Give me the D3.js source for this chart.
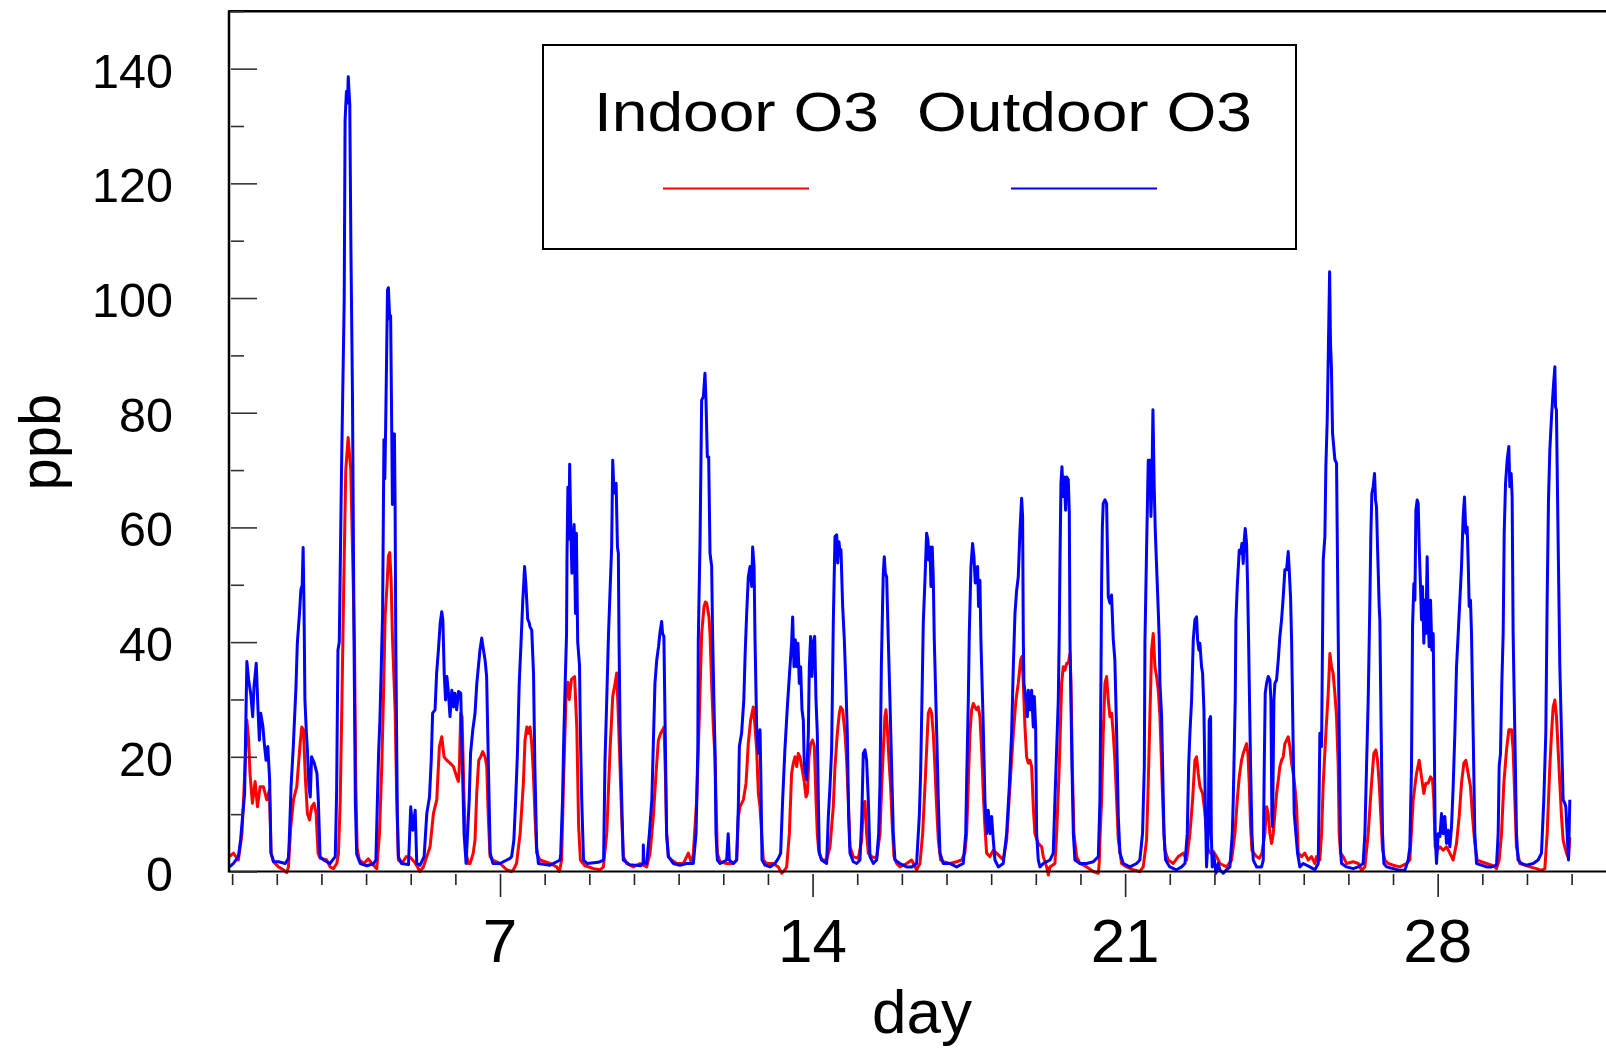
<!DOCTYPE html>
<html><head><meta charset="utf-8">
<script src="https://cdn.jsdelivr.net/npm/d3@7"></script>
<style>
body{margin:0;background:#fff}
svg{display:block}
text{font-family:"Liberation Sans",Arial,Helvetica,sans-serif;fill:#000}
</style>
</head><body>
<svg id="chart" width="1606" height="1048"></svg>
<script>
// ---- data ----
const seriesNames = ["Indoor O3", "Outdoor O3"];
const seriesColors = ["#ff0000", "#0000ff"];
const dayTicks = d3.range(1, 32);
const dayLabels = [7, 14, 21, 28];
const ppbTicks = d3.range(0, 151, 10);
const ppbLabels = [0, 20, 40, 60, 80, 100, 120, 140];

// outdoor O3 [day, ppb]
const outdoorO3 = [
[0.94,0.8],[1.03,1.4],[1.14,2.6],[1.19,5.5],[1.24,10.1],[1.28,13.6],[1.33,36.6],[1.37,33.4],[1.42,30.8],[1.46,27.0],[1.49,32.2],[1.54,36.3],[1.58,28.2],[1.61,22.9],[1.64,27.6],[1.69,25.3],[1.72,22.3],[1.76,19.4],[1.80,21.8],[1.84,16.0],[1.87,3.2],[1.93,1.7],[2.04,1.7],[2.19,1.4],[2.26,2.3],
[2.28,5.5],[2.32,14.8],[2.37,21.8],[2.43,32.2],[2.46,39.8],[2.51,45.2],[2.54,49.1],[2.57,50],[2.59,56.5],[2.61,46],[2.63,30],[2.66,24.7],[2.69,20.6],[2.72,14.8],[2.75,13.0],[2.78,20.0],[2.84,18.9],[2.90,17.1],[2.93,12.5],[2.97,2.6],[3.05,2.0],[3.19,1.4],[3.31,2.6],
[3.34,13.6],[3.37,38.6],[3.40,40],[3.45,70],[3.51,99.5],[3.53,131],[3.56,136],[3.585,134],[3.60,138.6],[3.635,133.7],[3.66,109],[3.695,83.4],[3.73,40.2],[3.76,12],[3.79,3],[3.87,1.4],[4.02,1.0],[4.17,1.4],[4.22,2.0],
[4.28,20.6],[4.31,26.4],[4.35,38.6],[4.37,45],[4.40,75.3],[4.42,68.5],[4.44,78.2],[4.48,101.4],[4.50,101.8],[4.53,96.3],[4.55,96.9],[4.575,76.9],[4.59,64],[4.61,76.3],[4.635,76.3],[4.65,64],[4.665,40],[4.70,10],[4.725,2.5],[4.80,1.4],[4.95,1.2],[5.0,11.3],[5.045,7.2],[5.10,10.7],[5.135,1.4],[5.21,1.1],
[5.30,2.6],[5.36,10.1],[5.42,13.0],[5.46,19.4],[5.49,27.6],[5.545,28.2],[5.58,34.6],[5.62,38.6],[5.66,43.3],[5.695,45.3],[5.72,43.9],[5.75,34.6],[5.78,29.9],[5.81,34.0],[5.84,31.6],[5.88,27.0],[5.92,31.6],[5.96,28.7],[5.99,31.1],[6.03,28.2],[6.07,31.4],[6.12,31.1],[6.14,24.1],[6.195,6.6],[6.24,1.4],
[6.31,12.5],[6.34,20.6],[6.39,24.7],[6.44,27.6],[6.48,32.8],[6.515,35.7],[6.55,38.6],[6.59,40.7],[6.63,38.6],[6.665,36.9],[6.70,34.0],[6.74,18.3],[6.78,3.2],[6.84,1.4],[7.0,1.4],[7.225,2.3],
[7.26,2.6],[7.31,5.5],[7.35,12.5],[7.39,20.6],[7.43,32.8],[7.47,39.8],[7.51,47.3],[7.53,50],[7.55,53.2],[7.58,50],[7.62,44],[7.65,43.5],[7.67,42.7],[7.71,42.1],[7.75,34.6],[7.78,18.3],[7.82,4.3],[7.86,1.4],[8.12,1.1],[8.27,1.7],[8.345,2.0],
[8.36,3.2],[8.40,12.5],[8.43,24],[8.46,33],[8.49,41.5],[8.50,55],[8.52,67],[8.54,58],[8.56,71],[8.58,62],[8.61,52],[8.64,58],[8.66,60.5],[8.69,45],[8.71,59],[8.74,40],[8.78,36],[8.80,24],[8.83,12.5],[8.87,2],[8.95,1.4],[9.2,1.6],[9.32,2],
[9.35,18.9],[9.39,29.9],[9.43,41.5],[9.50,56.6],[9.524,71.7],[9.553,66],[9.60,67.7],[9.63,56.6],[9.65,55.5],[9.665,40.4],[9.69,24],[9.725,12.5],[9.76,2],[9.9,1.2],[10.15,1.0],[10.205,1.5],[10.21,4.6],[10.22,1.5],[10.285,1.4],
[10.345,6.6],[10.40,12.5],[10.43,21.2],[10.47,32.8],[10.51,36.9],[10.55,39.2],[10.58,41.5],[10.62,43.6],[10.64,41.5],[10.67,41.0],[10.70,24.1],[10.73,6.6],[10.77,2.6],[10.88,1.4],[11.03,1.1],[11.18,1.4],[11.33,1.4],
[11.39,6.6],[11.43,21.2],[11.44,40],[11.48,57.8],[11.516,82.2],[11.554,82.8],[11.59,86.9],[11.613,82.2],[11.643,72.3],[11.673,72.3],[11.703,55.5],[11.74,53.2],[11.763,40.4],[11.79,29.9],[11.815,21.2],[11.837,6.6],[11.867,2],[11.93,1.4],[12.076,2],[12.11,6.6],[12.136,2],[12.226,1.4],[12.30,2],
[12.337,11.3],[12.36,21.8],[12.41,24.1],[12.46,29.9],[12.49,38],[12.524,45],[12.561,51.4],[12.60,53.2],[12.636,49.7],[12.658,56.6],[12.69,53.2],[12.711,40.4],[12.748,25.2],[12.786,20.6],[12.823,24.7],[12.845,14.8],[12.868,2],[12.935,1.1],[13.047,0.8],[13.158,1.4],[13.233,2.3],[13.285,3.2],
[13.33,12.5],[13.38,21.2],[13.435,28.7],[13.494,35.7],[13.53,39.8],[13.554,44.4],[13.584,35.7],[13.614,40.4],[13.644,35.7],[13.673,39.8],[13.703,32.8],[13.733,35.7],[13.763,28.2],[13.793,26.4],[13.815,18.3],[13.845,17.1],[13.867,16.0],[13.905,24.1],[13.927,35.7],[13.957,41.0],[13.987,34.0],[14.017,39.8],[14.047,41.0],[14.077,29.9],[14.106,24.1],[14.129,12.5],[14.151,3.2],[14.203,2.0],[14.315,1.4],
[14.353,9.6],[14.39,14.8],[14.427,21.2],[14.464,43.3],[14.502,58.4],[14.54,58.7],[14.562,53.8],[14.592,57.5],[14.614,55.5],[14.636,56.1],[14.674,46.2],[14.711,40.4],[14.748,32.2],[14.778,24.1],[14.808,9.6],[14.838,3.2],[14.912,1.7],[14.987,1.4],[15.062,2],[15.10,9],[15.136,20.6],[15.174,21.2],[15.21,19.4],[15.248,12.5],[15.286,2.6],[15.36,1.4],[15.435,2],
[15.48,6.6],[15.51,15.4],[15.54,35.7],[15.57,47.3],[15.584,52],[15.606,54.9],[15.629,52],[15.659,51.4],[15.696,40.4],[15.733,29.9],[15.77,18.3],[15.808,6.6],[15.845,2],[15.957,1.4],[16.107,0.8],[16.219,0.8],[16.33,1.4],
[16.39,9.6],[16.42,17.1],[16.45,29.9],[16.48,43.5],[16.517,50.8],[16.554,59],[16.584,57.8],[16.60,54.3],[16.63,56.6],[16.651,49.7],[16.68,56.6],[16.703,51.4],[16.726,40.4],[16.78,24.1],[16.816,12.5],[16.853,3.2],[16.928,1.4],[17.077,1.4],[17.226,0.8],[17.375,1.4],
[17.43,6.6],[17.45,15.4],[17.488,29.9],[17.51,41.5],[17.525,46.2],[17.547,53.2],[17.584,57.2],[17.614,54.9],[17.644,50.3],[17.674,52],[17.696,53.2],[17.718,46.2],[17.748,50.8],[17.77,40.4],[17.823,25.2],[17.86,12.5],[17.898,6.6],[17.935,10.7],[17.972,6.6],[18.01,9.6],[18.047,5.5],[18.085,2],[18.16,0.8],[18.27,1.4],
[18.346,6.6],[18.406,14.8],[18.458,24.1],[18.496,35.7],[18.533,45],[18.57,49],[18.607,51.4],[18.645,59.5],[18.682,65.1],[18.704,61.9],[18.72,40.5],[18.734,32.8],[18.78,29.9],[18.81,27],[18.832,31.6],[18.87,28.2],[18.906,31.6],[18.943,25.2],[18.966,30.5],[18.996,25.2],[19.018,6.6],[19.055,2],[19.093,0.8],[19.167,1.4],[19.316,2],[19.39,3.2],
[19.428,12.5],[19.466,21.2],[19.503,29.9],[19.525,41.5],[19.54,53.2],[19.563,67.7],[19.585,70.6],[19.615,65.4],[19.637,68.8],[19.667,63.0],[19.69,68.8],[19.727,68.3],[19.75,62.5],[19.765,40.5],[19.78,32.8],[19.81,18.3],[19.84,6.6],[19.876,2],[19.988,1.4],[20.138,1.4],[20.287,1.7],[20.40,2.6],
[20.436,12.5],[20.458,32.8],[20.473,50],[20.49,60.1],[20.51,64.2],[20.548,64.8],[20.585,64.2],[20.623,47.9],[20.66,46.8],[20.697,48.2],[20.734,40.5],[20.77,36.9],[20.81,24.1],[20.847,9.6],[20.884,3.2],[20.96,1.4],[21.108,0.8],[21.257,1.4],[21.33,2],
[21.39,6.6],[21.43,18.3],[21.444,40],[21.48,56],[21.518,71.7],[21.555,71.7],[21.578,61.9],[21.60,67.7],[21.623,80.5],[21.653,66.5],[21.675,59.5],[21.705,53.2],[21.742,45.6],[21.764,40.5],[21.78,32.8],[21.817,27],[21.84,18.3],[21.87,6.6],[21.906,2],[22.0,0.8],[22.15,0.3],[22.265,0.8],[22.34,1.4],
[22.392,6.6],[22.422,18.3],[22.451,24.1],[22.489,29.9],[22.526,40.4],[22.563,43.9],[22.60,44.4],[22.623,40.4],[22.653,38.6],[22.675,39.8],[22.712,35.7],[22.735,34.6],[22.765,28.2],[22.794,12.5],[22.824,0.8],[22.862,6.6],[22.884,26.4],[22.914,27],[22.93,6.6],[22.951,0.8],[22.974,3.2],[23.0,2],[23.034,-0.3],[23.086,1.4],[23.123,0.3],[23.198,-0.3],[23.272,0.3],[23.347,0.8],
[23.40,6.6],[23.422,12.5],[23.444,21.2],[23.466,29.9],[23.481,43.6],[23.511,49.7],[23.556,56],[23.586,55.5],[23.616,57.2],[23.645,53.7],[23.668,57.8],[23.69,59.8],[23.72,57.2],[23.742,50.3],[23.765,40.5],[23.78,32.8],[23.81,18.3],[23.84,6.6],[23.87,2],[23.944,0.8],[24.056,0.8],[24.094,2],
[24.116,18.3],[24.138,31.1],[24.168,32.8],[24.205,34],[24.243,33.4],[24.265,29.9],[24.287,9.6],[24.302,7.8],[24.332,29.9],[24.354,32.8],[24.392,33.4],[24.43,36.9],[24.466,41],[24.504,43.9],[24.541,47.9],[24.578,52.6],[24.616,52.6],[24.653,55.8],[24.675,52.6],[24.705,47.9],[24.728,40.5],[24.743,32.8],[24.765,21.2],[24.787,10.1],[24.825,6.6],[24.862,3.2],[24.914,0.8],[24.988,1.4],[25.137,0.8],[25.25,0.3],
[25.325,1.4],[25.362,24.1],[25.40,21.8],[25.437,54.3],[25.474,58.4],[25.496,70.6],[25.526,78.7],[25.55,90],[25.58,104.6],[25.60,92],[25.62,88],[25.646,76.4],[25.698,71.8],[25.735,71.2],[25.772,41.5],[25.795,24.1],[25.825,3.7],[25.847,1.4],[25.959,0.8],[26.108,0.5],[26.22,0.8],[26.33,1.4],
[26.37,6.6],[26.407,18.3],[26.444,29.9],[26.482,47.3],[26.504,59],[26.526,65.9],[26.556,67.1],[26.586,69.4],[26.608,64.8],[26.63,63.6],[26.653,56.6],[26.668,52.6],[26.69,46.2],[26.705,43.9],[26.735,24.1],[26.765,6.6],[26.795,1.4],[26.855,0.8],[27.004,0.5],[27.153,0.2],[27.265,0.2],[27.34,2],
[27.377,4.3],[27.414,18.3],[27.437,42.7],[27.467,50.2],[27.49,47.3],[27.512,63],[27.541,64.8],[27.564,64.2],[27.586,56.6],[27.616,49.7],[27.638,43.9],[27.66,49.7],[27.69,39.8],[27.713,47.3],[27.735,41.5],[27.765,54.9],[27.787,44.4],[27.81,39.2],[27.84,47.3],[27.87,38.6],[27.90,41.5],[27.922,24.1],[27.944,6.6],[27.974,1.4],[28.012,6.6],[28.05,6.1],[28.086,10.1],[28.123,6.6],[28.16,9.6],[28.198,4.9],[28.236,7.2],[28.273,4.3],[28.31,7.8],
[28.347,14.8],[28.385,24.1],[28.422,35.7],[28.46,41.5],[28.497,47.3],[28.534,53.1],[28.571,61.9],[28.60,65.3],[28.631,59],[28.66,60.1],[28.683,54.3],[28.706,46.2],[28.735,47.3],[28.758,41.5],[28.795,24.1],[28.832,6.6],[28.87,1.4],[28.98,1.1],[29.094,0.8],[29.206,0.8],[29.318,1.1],
[29.355,6.6],[29.377,18.3],[29.407,20.6],[29.437,32.8],[29.467,41.5],[29.49,59],[29.52,67.7],[29.557,71.8],[29.594,74.1],[29.616,67.1],[29.646,69.4],[29.668,65.3],[29.69,41.5],[29.728,24.1],[29.765,6.6],[29.80,2],[29.877,1.4],[29.99,1.1],[30.14,1.4],[30.25,2],[30.325,3.2],
[30.377,12.5],[30.422,24.1],[30.452,47.3],[30.482,64.8],[30.512,73.5],[30.55,79.3],[30.587,84],[30.61,86.5],[30.625,88],[30.64,81],[30.66,80.5],[30.676,70.6],[30.706,53.1],[30.736,35.7],[30.773,24.1],[30.81,12.5],[30.847,11.9],[30.87,11.3],[30.90,6.6],[30.93,2],[30.96,12.5]
];

// indoor O3 [day, ppb]
const indoorO3 = [
[0.94,2.6],[1.03,3.2],[1.14,2.0],[1.22,6.6],[1.27,14.8],[1.33,26.4],[1.37,22.9],[1.40,17.1],[1.455,11.9],[1.515,15.7],[1.567,11.3],[1.627,14.8],[1.70,14.8],[1.776,12.5],[1.836,14.2],[1.873,3.2],[1.925,1.7],[2.037,0.8],[2.149,0.3],[2.224,-0.2],
[2.261,0.8],[2.314,7.8],[2.373,12.5],[2.448,14.8],[2.523,22.3],[2.56,25.2],[2.597,24.7],[2.642,16.0],[2.687,10.1],[2.732,9.0],[2.784,11.3],[2.836,11.9],[2.881,10.1],[2.925,3.2],[2.97,2.3],[3.12,2.0],[3.194,0.8],[3.269,0.5],[3.343,1.4],
[3.38,3],[3.42,12],[3.46,30],[3.50,50],[3.545,70],[3.598,75.7],[3.657,70],[3.71,51],[3.74,40],[3.77,15],[3.80,4],[3.85,2],[3.95,1.4],[4.05,2.2],[4.15,1.2],[4.239,0.5],
[4.30,6.6],[4.351,18.3],[4.388,30],[4.426,44.4],[4.47,50],[4.50,55],[4.53,55.6],[4.56,51],[4.59,41],[4.65,28.2],[4.687,12.5],[4.724,2],[4.80,1.4],[4.90,2.6],[5.0,2.4],[5.10,1.5],[5.21,0],
[5.284,0.8],[5.359,2.6],[5.433,4.3],[5.508,10.1],[5.583,12.5],[5.642,21.8],[5.695,23.5],[5.747,20.0],[5.807,19.4],[5.881,18.9],[5.956,18.3],[6.03,16.5],[6.068,15.7],[6.09,18.3],[6.12,27.6],[6.15,27],[6.195,12.5],[6.24,3.2],[6.29,1.4],[6.33,1.4],[6.40,3.2],
[6.44,5.5],[6.478,13.6],[6.523,19.4],[6.568,20.0],[6.612,20.9],[6.665,20.0],[6.703,18.3],[6.74,9.0],[6.777,2.6],[6.837,2.0],[7.0,1.4],[7.15,0.3],[7.26,0],
[7.30,0.3],[7.37,1.4],[7.45,6.6],[7.523,15.4],[7.56,22.9],[7.60,25.2],[7.635,24.1],[7.672,25.2],[7.71,22.3],[7.747,17.1],[7.784,9.6],[7.822,3.2],[7.896,2.0],[8.12,1.4],[8.27,0.8],[8.33,0],
[8.38,2],[8.42,15],[8.48,31],[8.52,33],[8.55,30],[8.60,33.5],[8.67,34],[8.72,25],[8.76,8],[8.80,2],[8.9,1],[9.10,0.5],[9.24,0.3],
[9.315,0.8],[9.39,6.6],[9.464,21.2],[9.524,30.5],[9.576,32.8],[9.613,34.6],[9.65,27],[9.688,18.3],[9.725,9.6],[9.762,2.6],[9.837,1.4],[9.986,0.8],[10.136,1.4],[10.285,0.8],
[10.36,3.2],[10.434,9.6],[10.494,17.1],[10.546,22.9],[10.598,24.1],[10.643,24.7],[10.673,25.2],[10.703,17.1],[10.733,6.6],[10.77,2.6],[10.845,2.0],[10.957,1.4],[11.106,1.4],[11.218,3.2],[11.29,1.4],
[11.33,3.2],[11.405,12.5],[11.464,27],[11.516,41.5],[11.569,46.2],[11.60,47],[11.628,46.8],[11.68,44.4],[11.703,41.5],[11.74,32.8],[11.777,25.2],[11.815,20],[11.837,12.5],[11.867,3.2],[11.927,1.7],[12.076,1.4],[12.226,1.4],[12.30,2],
[12.337,9.6],[12.375,11.3],[12.45,12.5],[12.51,15.4],[12.56,22.3],[12.613,26.4],[12.673,28.7],[12.711,25.2],[12.748,21.2],[12.786,13.6],[12.823,11.3],[12.86,6.6],[12.897,2],[12.972,1.4],[13.12,1.4],[13.233,0.8],[13.31,-0.3],[13.382,0.3],
[13.42,0.8],[13.48,6.6],[13.53,17.1],[13.569,18.9],[13.606,20],[13.644,18.3],[13.68,20.6],[13.718,20],[13.755,18.3],[13.808,16.0],[13.853,13.0],[13.883,13.6],[13.92,20],[13.957,22.3],[14.0,22.9],[14.04,21.8],[14.077,12.5],[14.106,6.6],[14.136,3.7],[14.203,2],[14.315,2],
[14.39,4.3],[14.464,11.3],[14.502,18.3],[14.554,24.1],[14.599,27.6],[14.629,28.7],[14.674,28.2],[14.726,24.1],[14.763,19.4],[14.80,12.5],[14.838,4.3],[14.912,2.6],[15.025,2.3],[15.10,5.5],[15.136,11.3],[15.174,12.2],[15.21,6.6],[15.248,3.2],[15.323,2.6],[15.435,2.3],
[15.51,6.6],[15.547,14.8],[15.584,21.2],[15.62,27],[15.644,28.2],[15.673,25.2],[15.711,19.4],[15.748,14.8],[15.786,7.8],[15.823,2.6],[15.883,1.4],[15.957,0.8],[16.107,1.4],[16.219,2],[16.33,0.3],[16.405,1.4],
[16.465,6.6],[16.517,14.8],[16.554,21.2],[16.592,27.6],[16.63,28.4],[16.666,27.6],[16.703,24.1],[16.74,18.3],[16.778,11.3],[16.816,5.5],[16.868,2],[16.928,1.7],[17.077,1.4],[17.226,1.7],[17.338,2],[17.41,3.2],
[17.45,6.6],[17.488,15.4],[17.525,24.1],[17.562,28.2],[17.60,29.3],[17.637,28.7],[17.674,28.2],[17.711,28.7],[17.748,27],[17.786,21.2],[17.823,13.6],[17.86,7.8],[17.898,3.2],[17.972,2.6],[18.047,3.7],[18.122,3.2],[18.197,2.6],[18.27,2],
[18.346,5.5],[18.42,14.8],[18.496,24.1],[18.555,29.9],[18.607,32.8],[18.66,36.9],[18.69,37.5],[18.72,32.8],[18.757,25.2],[18.794,20],[18.832,18.9],[18.87,19.4],[18.906,18.3],[18.943,11.3],[18.98,6.6],[19.055,4.9],[19.13,4.3],[19.167,2.6],[19.242,0.8],[19.28,-0.6],[19.316,0.8],[19.428,1.4],
[19.466,6.6],[19.525,18.3],[19.578,32.8],[19.615,35.7],[19.652,35.1],[19.69,36.3],[19.727,36.3],[19.765,38],[19.787,33.4],[19.817,18.3],[19.854,6.6],[19.914,2.6],[19.988,1.4],[20.138,0.8],[20.287,0],[20.40,-0.3],[20.42,1.5],
[20.436,5.5],[20.473,12.5],[20.51,24.1],[20.548,32.8],[20.585,34],[20.623,29.9],[20.66,27],[20.697,27.6],[20.734,24.1],[20.77,19.4],[20.81,12.5],[20.847,5.5],[20.921,1.4],[21.033,0.8],[21.183,0.3],[21.33,0],[21.406,0.8],
[21.48,5.5],[21.518,15.4],[21.555,27],[21.593,38.6],[21.63,41.5],[21.667,35.7],[21.705,34],[21.742,31.6],[21.78,27],[21.817,18.3],[21.854,9.6],[21.891,3.7],[21.966,2],[22.078,1.4],[22.19,2.6],[22.302,3.2],[22.377,2],
[22.451,6.6],[22.511,12.5],[22.563,19.4],[22.60,20],[22.638,17.1],[22.675,14.8],[22.735,13.6],[22.78,10.7],[22.824,6.6],[22.862,3.7],[22.914,3.2],[22.974,3.5],[23.048,2.6],[23.123,1.4],[23.272,0.8],[23.384,2],
[23.459,6.6],[23.511,12.5],[23.556,16.5],[23.608,19.4],[23.645,20.6],[23.698,21.8],[23.72,22.3],[23.75,20.6],[23.78,15.4],[23.81,7.8],[23.84,3.7],[23.884,3.2],[23.944,2.6],[24.004,2.3],[24.063,3.2],[24.13,6.6],
[24.168,11.3],[24.205,10.1],[24.243,6.6],[24.28,4.9],[24.317,6.6],[24.354,10.1],[24.392,13.6],[24.43,15.9],[24.466,18.3],[24.504,19.4],[24.541,20],[24.578,22.3],[24.616,22.9],[24.653,23.5],[24.69,21.8],[24.728,18.9],[24.765,17.1],[24.802,14.8],[24.84,11.3],[24.877,3.2],[24.951,2.6],[25.026,3.2],[25.10,2],[25.175,2.6],[25.25,1.4],
[25.287,2.6],[25.36,2],[25.40,6.6],[25.437,15.4],[25.496,24.1],[25.548,31],[25.586,38],[25.623,35.7],[25.66,34.5],[25.698,31],[25.735,27],[25.772,18.3],[25.795,6.6],[25.825,3.2],[25.885,2.6],[25.959,1.4],[26.108,1.7],[26.22,1.4],[26.295,0.2],[26.37,0.8],
[26.444,6.6],[26.519,15.4],[26.571,20.6],[26.616,21.2],[26.653,19.4],[26.69,15.4],[26.728,9.6],[26.765,3.8],[26.817,2],[26.892,1.4],[27.004,1.1],[27.153,0.8],[27.302,1.4],[27.377,2],
[27.452,12.5],[27.526,17.1],[27.586,19.4],[27.638,16.5],[27.69,13.6],[27.735,15.4],[27.787,15.4],[27.84,16.5],[27.885,15.9],[27.914,12.5],[27.944,4.3],[27.989,3.7],[28.05,4.3],[28.123,3.7],[28.198,4.3],[28.273,3.2],[28.347,2],
[28.422,4.9],[28.482,9.6],[28.534,15.4],[28.586,18.9],[28.631,19.4],[28.683,17.1],[28.735,14.8],[28.78,9.6],[28.832,4.9],[28.884,2],[28.98,1.7],[29.094,1.4],[29.206,1.1],[29.28,0.8],
[29.318,0.5],[29.377,2],[29.43,6.6],[29.482,15.4],[29.542,21.2],[29.594,24.7],[29.654,24.7],[29.69,21.2],[29.728,12.5],[29.765,4.3],[29.84,1.4],[29.952,1.1],[30.064,0.8],[30.213,0.5],[30.325,0.2],[30.40,0.5],
[30.452,6.6],[30.512,18.3],[30.55,24.1],[30.587,28.7],[30.624,29.9],[30.661,27],[30.698,21.2],[30.736,15.4],[30.773,9.6],[30.81,5.5],[30.847,4.3],[30.885,3.2],[30.93,2.3],[30.96,6]
];

// ---- layout ----
const svg = d3.select("#chart");
const W = 1606, H = 1048;
const x = d3.scaleLinear().domain([0.93, 31.77]).range([229, 1606]);
const y = d3.scaleLinear().domain([0, 150]).range([871.5, 11.3]);

// series lines
const line = d3.line().x(d => x(d[0])).y(d => y(d[1]));
svg.append("path").datum(indoorO3)
  .attr("d", line).attr("fill", "none").attr("stroke", seriesColors[0])
  .attr("stroke-width", 3).attr("stroke-linejoin", "round");
svg.append("path").datum(outdoorO3)
  .attr("d", line).attr("fill", "none").attr("stroke", seriesColors[1])
  .attr("stroke-width", 3).attr("stroke-linejoin", "round");

// frame
svg.append("line").attr("x1", 229).attr("x2", W).attr("y1", y(150)).attr("y2", y(150))
  .attr("stroke", "#000").attr("stroke-width", 2.5);
svg.append("line").attr("x1", 229).attr("x2", 229).attr("y1", y(150) - 1).attr("y2", y(0) + 1)
  .attr("stroke", "#000").attr("stroke-width", 2.5);
svg.append("line").attr("x1", 229).attr("x2", W).attr("y1", y(0)).attr("y2", y(0))
  .attr("stroke", "#000").attr("stroke-width", 2.2);

// x axis ticks (below, with small gap)
const xMinor = d3.axisBottom(x).tickValues(dayTicks.filter(d => !dayLabels.includes(d))).tickSize(11).tickFormat("");
const xMajor = d3.axisBottom(x).tickValues(dayLabels).tickSize(23).tickFormat("");
[xMinor, xMajor].forEach(ax => {
  const g = svg.append("g").attr("transform", `translate(0,${y(0) + 2.5})`).call(ax);
  g.select(".domain").remove();
  g.selectAll(".tick line").attr("stroke", "#222").attr("stroke-width", 1.6);
});
svg.append("g").selectAll("text").data(dayLabels).join("text")
  .attr("x", d => x(d)).attr("y", 962)
  .attr("text-anchor", "middle").attr("font-size", 62).text(d => d);

// y axis ticks (inside)
const yMinor = d3.axisRight(y).tickValues(ppbTicks.filter(v => !ppbLabels.includes(v))).tickSize(13).tickFormat("");
const yMajor = d3.axisRight(y).tickValues(ppbLabels).tickSize(26).tickFormat("");
[yMinor, yMajor].forEach(ax => {
  const g = svg.append("g").attr("transform", `translate(231,0)`).call(ax);
  g.select(".domain").remove();
  g.selectAll(".tick line").attr("stroke", "#333").attr("stroke-width", 1.6);
});
svg.append("g").selectAll("text").data(ppbLabels).join("text")
  .attr("x", 173).attr("y", d => y(d) + 19)
  .attr("text-anchor", "end").attr("font-size", 48.5).text(d => d);

// axis titles
svg.append("text").attr("x", 922).attr("y", 1033).attr("text-anchor", "middle")
  .attr("font-size", 62).text("day");
svg.append("text").attr("transform", "translate(60,442) rotate(-90)").attr("text-anchor", "middle")
  .attr("font-size", 58).text("ppb");

// legend
const lg = svg.append("g");
lg.append("rect").attr("x", 543).attr("y", 45).attr("width", 753).attr("height", 204)
  .attr("fill", "#fff").attr("stroke", "#000").attr("stroke-width", 2);
const legendItems = [
  {name: seriesNames[0], color: seriesColors[0], tx: 594, tw: 285, lx1: 663, lx2: 809},
  {name: seriesNames[1], color: seriesColors[1], tx: 917, tw: 335, lx1: 1011, lx2: 1157}
];
legendItems.forEach(it => {
  lg.append("text").attr("x", it.tx).attr("y", 131).attr("font-size", 56)
    .attr("textLength", it.tw).attr("lengthAdjust", "spacingAndGlyphs").text(it.name);
  lg.append("line").attr("x1", it.lx1).attr("x2", it.lx2).attr("y1", 188.5).attr("y2", 188.5)
    .attr("stroke", it.color).attr("stroke-width", 2.2);
});
</script>
</body></html>
